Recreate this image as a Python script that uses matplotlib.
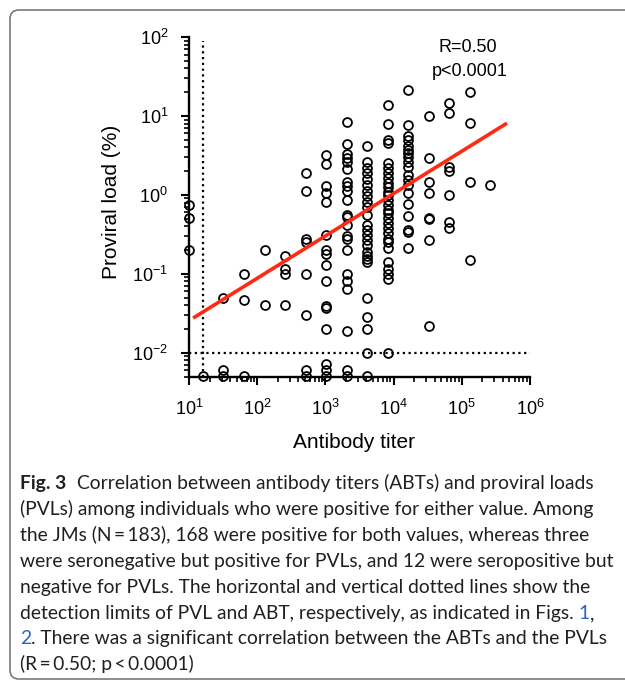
import numpy as np
import matplotlib.pyplot as plt
from matplotlib.patches import FancyBboxPatch

plt.rcParams['font.family'] = ['Liberation Sans', 'DejaVu Sans']

# PVL values (%) read per antibody titer column
pvl_32 = [0.050]
pvl_64 = [0.10, 0.047]
pvl_128 = [0.20, 0.040]
pvl_256 = [0.17, 0.114, 0.10, 0.040]
pvl_512 = [1.88, 1.12, 0.28, 0.25, 0.10, 0.030]
pvl_1024 = [3.2, 2.45, 1.3, 1.05, 0.82, 0.31, 0.20, 0.18, 0.13, 0.08, 0.039, 0.037, 0.020]
pvl_2048 = [8.5, 4.4, 3.3, 2.96, 2.64, 2.1, 1.47, 1.31, 1.13, 0.86, 0.56, 0.52, 0.42,
            0.30, 0.28, 0.20, 0.10, 0.08, 0.064, 0.019]
pvl_4096 = [4.1, 2.6, 2.2, 1.9, 1.6, 1.35, 1.13, 0.98, 0.82, 0.70, 0.55, 0.42, 0.36,
            0.31, 0.27, 0.23, 0.19, 0.17, 0.155, 0.143, 0.050, 0.028, 0.020, 0.010]
pvl_8192 = [13.8, 7.85, 5.0, 4.5, 2.52, 2.2, 1.9, 1.65, 1.43, 1.25, 1.1, 1.0, 0.86, 0.75,
            0.65, 0.59, 0.51, 0.44, 0.38, 0.33, 0.28, 0.25, 0.21, 0.14, 0.115, 0.098,
            0.085, 0.010]
pvl_16384 = [21.4, 7.7, 5.5, 5.0, 4.1, 3.7, 3.37, 3.06, 2.64, 2.28, 1.79, 1.55, 1.34,
             1.05, 0.77, 0.54, 0.36, 0.34, 0.21]
pvl_32768 = [10.0, 2.9, 1.47, 1.07, 0.51, 0.49, 0.27, 0.022]
pvl_65536 = [14.7, 10.8, 2.28, 2.03, 1.0, 0.45, 0.38]
pvl_131072 = [20.3, 8.1, 1.45, 0.15]
pvl_262144 = [1.35]

titers = [32, 64, 128, 256, 512, 1024, 2048, 4096, 8192, 16384, 32768, 65536, 131072, 262144]
columns = [pvl_32, pvl_64, pvl_128, pvl_256, pvl_512, pvl_1024, pvl_2048, pvl_4096,
           pvl_8192, pvl_16384, pvl_32768, pvl_65536, pvl_131072, pvl_262144]

# seronegative but PVL positive (plotted at titer 10)
seroneg_pvl = [0.75, 0.51, 0.20]
# seropositive but PVL negative (plotted at the bottom)
pvlneg_abt = [16, 32, 32, 64, 512, 512, 1024, 1024, 1024, 2048, 2048, 4096]
pvlneg_y = [0.0051, 0.0061, 0.0051, 0.0051, 0.0061, 0.0051, 0.0072, 0.0061, 0.0051,
            0.0061, 0.0051, 0.0051]

# regression line end points and detection limits
fit_x = [11.5, 4.6e5]
fit_y = [0.0275, 8.1]
abt_limit = 16
pvl_limit = 0.01

W, H = 625, 681
fig = plt.figure(figsize=(W / 100, H / 100), dpi=100)

# frame around figure + caption
box = FancyBboxPatch((0.10, 0.02), 6.5, 6.69, boxstyle='round,pad=0,rounding_size=0.09',
                     transform=fig.dpi_scale_trans, fc='none', ec='#7a7a7a', lw=1.2)
fig.patches.append(box)

ax = fig.add_axes([189 / W, 1 - 376.5 / H, (530 - 189) / W, (376.5 - 37) / H])
ax.set_xscale('log')
ax.set_yscale('log')
ax.set_xlim(10, 1e6)
ax.set_ylim(0.005, 100)

mk = dict(ls='none', marker='o', ms=6.4, mfc='none', mec='black', mew=1.3, clip_on=False, zorder=4)
abt = []
pvl = []
for t, col in zip(titers, columns):
    abt += [t] * len(col)
    pvl += col
ax.plot(abt, pvl, **mk)
ax.plot([10] * len(seroneg_pvl), seroneg_pvl, **mk)
ax.plot(pvlneg_abt, pvlneg_y, **mk)

ax.plot([abt_limit, abt_limit], [0.005, 90], ls=(0, (1, 1.6)), color='black', lw=1.6, zorder=2)
ax.plot([10, 1e6], [pvl_limit, pvl_limit], ls=(0, (1, 1.6)), color='black', lw=1.6, zorder=2)
ax.plot(fit_x, fit_y, color='#ff2a14', lw=2.6, solid_capstyle='butt', zorder=5)

ax.text(0.818, 0.970, 'R=0.50', transform=ax.transAxes, ha='center', va='center', fontsize=13)
ax.text(0.822, 0.897, 'p<0.0001', transform=ax.transAxes, ha='center', va='center', fontsize=13)

for s in ['top', 'right']:
    ax.spines[s].set_visible(False)
for s in ['left', 'bottom']:
    ax.spines[s].set_linewidth(1.7)
ax.tick_params(which='major', direction='out', length=6, width=1.5, labelsize=13, pad=9)
ax.tick_params(which='minor', direction='out', length=3.5, width=1.2)
ax.tick_params(axis='x', which='major', pad=10)

ax.set_ylabel('Proviral load (%)', fontsize=15)
ax.yaxis.set_label_coords(-0.20, 0.515)
ax.set_xlabel('Antibody titer', fontsize=15)
ax.xaxis.set_label_coords(0.484, -0.166)

# caption
cap_font = ['Lato', 'DejaVu Sans']
cap_col = '#231f20'
link_col = '#2f5fc4'
lines = [
    'Correlation between antibody titers (ABTs) and proviral loads',
    '(PVLs) among individuals who were positive for either value. Among',
    'the JMs (N\u2009=\u2009183), 168 were positive for both values, whereas three',
    'were seronegative but positive for PVLs, and 12 were seropositive but',
    'negative for PVLs. The horizontal and vertical dotted lines show the',
    'detection limits of PVL and ABT, respectively, as indicated in Figs.',
    '. There was a significant correlation between the ABTs and the PVLs',
    '(R\u2009=\u20090.50; p\u2009<\u20090.0001)',
]
r = fig.canvas.get_renderer()


def width(s, fs, weight='normal'):
    t = fig.text(0, 0, s, fontsize=fs, family=cap_font, fontweight=weight)
    w = t.get_window_extent(r).width
    t.remove()
    return w


cap_fs = 14 * 595 / width(lines[3], 14)
space = width('x x', cap_fs) - width('xx', cap_fs)
base_y = [489, 515, 541, 567, 593, 619, 644, 670]
x0 = 20


def put(x, y, s, color=cap_col, weight='normal'):
    fig.text(x / W, 1 - y / H, s, fontsize=cap_fs, family=cap_font, color=color,
             fontweight=weight, va='baseline', ha='left')
    return x + width(s, cap_fs, weight)


x = put(x0, base_y[0], 'Fig. 3', weight='bold')
put(x + 2.2 * space, base_y[0], lines[0])
for i in range(1, 5):
    put(x0, base_y[i], lines[i])
x = put(x0, base_y[5], lines[5])
x = put(x + space, base_y[5], '1', color=link_col)
put(x, base_y[5], ',')
x = put(x0, base_y[6], '2', color=link_col)
put(x, base_y[6], lines[6])
put(x0, base_y[7], lines[7])

fig.savefig('out.png', dpi=100)
